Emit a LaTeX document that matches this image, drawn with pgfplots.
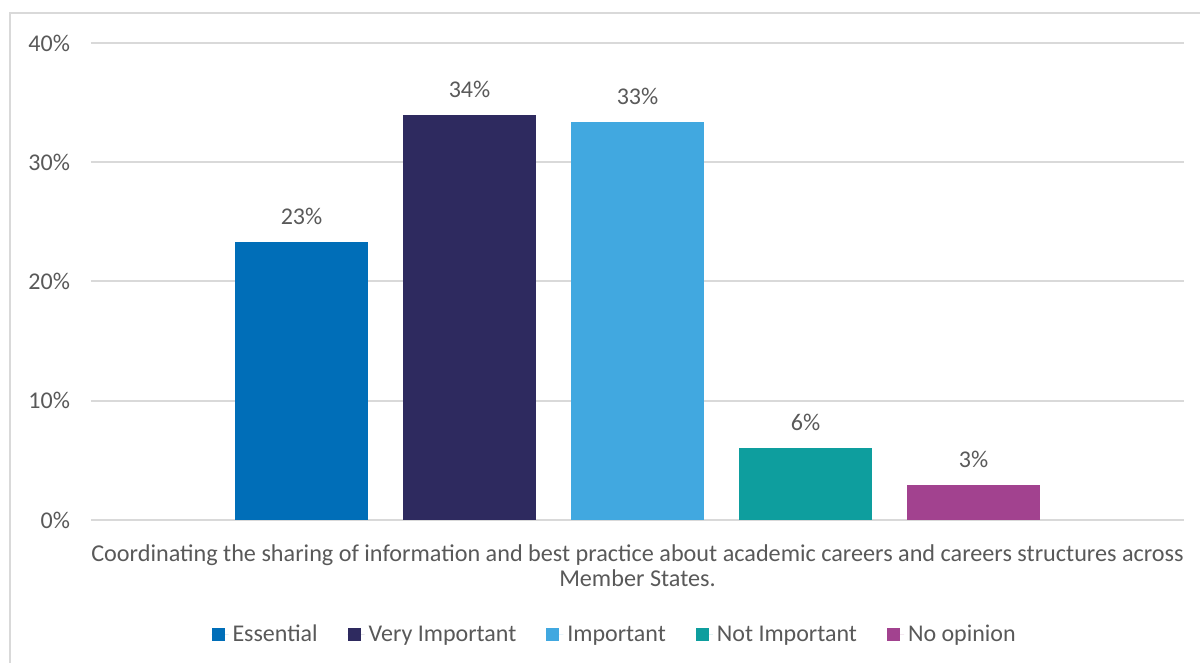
\documentclass[border=0pt]{standalone}
\usepackage{fontspec}
\setmainfont{Carlito}
\usepackage{pgfplots}
\pgfplotsset{compat=1.18}

\definecolor{essential}{HTML}{006EB8}
\definecolor{veryimp}{HTML}{2E2A5F}
\definecolor{imp}{HTML}{41A8E0}
\definecolor{notimp}{HTML}{0E9E9E}
\definecolor{noop}{HTML}{A2428F}
\definecolor{textgrey}{HTML}{595959}
\definecolor{gridgrey}{HTML}{D9D9D9}

\begin{document}
\begin{tikzpicture}
\useasboundingbox (0pt,0pt) rectangle (600pt,331.5pt);
% chart frame (cropped on the right and bottom)
\draw[gridgrey, line width=0.8pt] (5pt,0pt) -- (5pt,325pt) -- (600pt,325pt);
\begin{axis}[
    at={(45.5pt,71.5pt)}, anchor=south west,
    scale only axis, width=546.5pt, height=238.5pt,
    ybar=17.5pt, bar width=66.5pt,
    xmin=-1, xmax=1, ymin=0, ymax=40,
    axis lines*=left,
    x axis line style={gridgrey, line width=1pt},
    y axis line style={draw=none},
    major tick length=0pt,
    ymajorgrids, grid style={gridgrey, line width=1pt},
    /pgf/number format/assume math mode=true,
    xtick={0},
    xticklabels={{Coordinating the sharing of information and best practice about academic careers and careers structures across\\Member States.}},
    xticklabel style={align=center, text=textgrey, font=\fontsize{12.1}{12.5}\selectfont, yshift=-9pt},
    ytick={0,10,20,30,40},
    yticklabels={0\%,10\%,20\%,30\%,40\%},
    yticklabel style={text=textgrey, font=\fontsize{12}{13}\selectfont, xshift=-7pt},
    point meta=y,
    nodes near coords={\pgfmathprintnumber[fixed,precision=0]{\pgfplotspointmeta}\%},
    every node near coord/.append style={text=textgrey, font=\fontsize{12}{13}\selectfont, yshift=5pt},
    legend columns=5,
    legend style={at={(0.480,-0.241)}, anchor=center, draw=none,
        font=\fontsize{12}{13}\selectfont, text=textgrey,
        /tikz/every even column/.append style={column sep=13pt}},
    legend image code/.code={\fill[#1] (0pt,-3.25pt) rectangle (6.5pt,3.25pt);
        \path (0pt,0pt) -- (8.5pt,0pt);},
]
\addplot[fill=essential, draw=none] coordinates {(0,23.3)};
\addlegendentry{Essential}
\addplot[fill=veryimp, draw=none] coordinates {(0,33.96)};
\addlegendentry{Very Important}
\addplot[fill=imp, draw=none] coordinates {(0,33.4)};
\addlegendentry{Important}
\addplot[fill=notimp, draw=none] coordinates {(0,6.04)};
\addlegendentry{Not Important}
\addplot[fill=noop, draw=none] coordinates {(0,2.94)};
\addlegendentry{No opinion}
\end{axis}
\end{tikzpicture}
\end{document}
